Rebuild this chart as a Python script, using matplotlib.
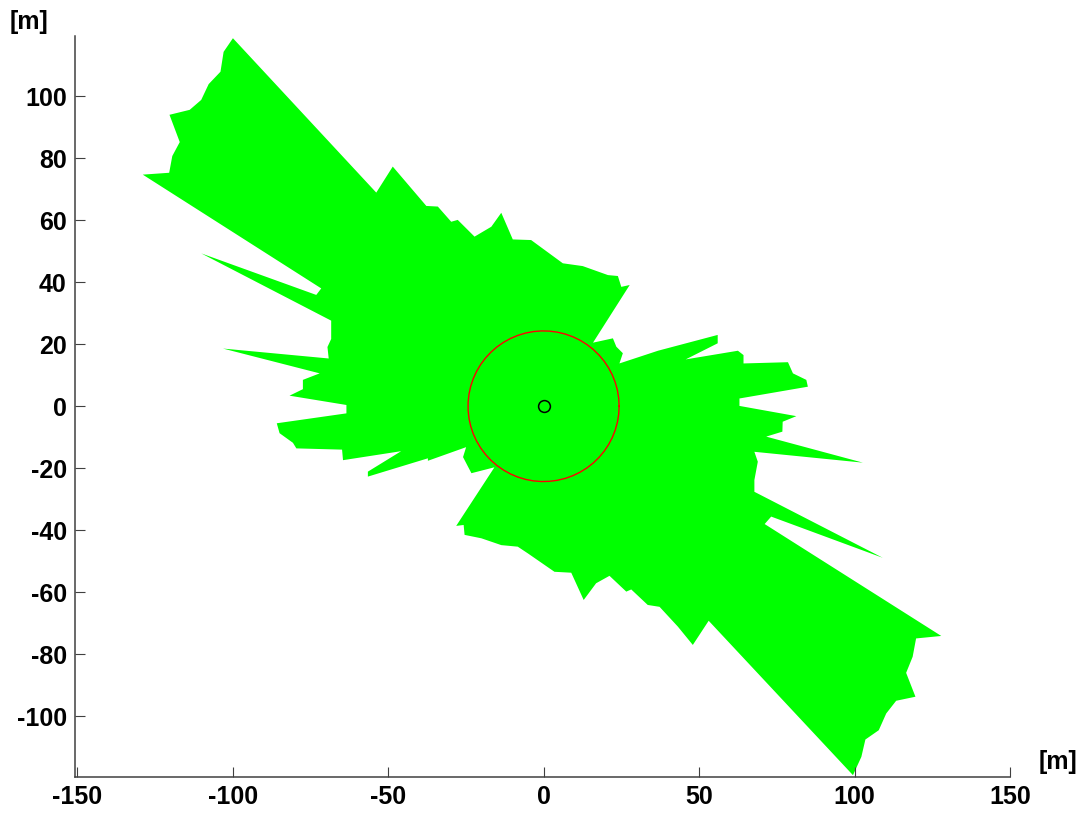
import numpy as np
import matplotlib
matplotlib.use('Agg')
import matplotlib.pyplot as plt

# coverage polygon outline [m], counter-clockwise starting from the +x direction
poly_x = [63.0, 63.0, 85.0, 84.5, 80.2, 78.6, 64.3, 64.3, 62.5, 45.7,
          56.0, 56.0, 36.8, 24.4, 25.5, 23.4, 22.3, 15.9, 27.7, 25.0,
          23.9, 20.7, 12.6, 6.2, -4.0, -9.9, -13.6, -16.8, -22.2, -27.6,
          -29.7, -34.0, -37.7, -48.5, -53.8, -99.9, -102.9, -103.9, -107.7, -110.1,
          -113.8, -120.3, -117.0, -119.4, -120.4, -128.9, -71.5, -73.1, -110.1, -68.3,
          -68.3, -69.5, -69.1, -103.1, -72.0, -77.4, -77.4, -81.7, -63.4, -63.4,
          -85.8, -84.9, -80.6, -79.5, -64.8, -64.5, -45.8, -56.5, -56.5, -37.2,
          -37.2, -24.9, -25.9, -24.3, -23.2, -15.8, -28.1, -25.7, -25.4, -20.0,
          -13.6, -8.3, -5.0, 3.5, 8.9, 12.9, 16.9, 21.2, 26.6, 28.2,
          33.5, 37.3, 43.2, 48.0, 53.1, 99.5, 102.2, 103.5, 107.8, 110.2,
          113.4, 119.6, 116.6, 118.7, 119.8, 127.9, 71.1, 73.2, 109.1, 67.8,
          67.8, 68.9, 67.8, 102.7, 71.6, 76.8, 76.9, 81.3]
poly_y = [0.1, 2.5, 6.3, 8.5, 10.6, 14.2, 13.8, 16.5, 17.9, 15.1,
          20.3, 23.0, 17.9, 13.8, 17.1, 19.2, 21.9, 20.5, 39.1, 38.5,
          42.0, 42.3, 45.2, 46.1, 53.6, 53.8, 62.4, 57.9, 54.7, 60.1,
          59.5, 64.4, 64.6, 77.3, 68.9, 118.7, 114.3, 107.9, 103.9, 98.8,
          95.6, 94.0, 85.2, 80.7, 75.3, 74.7, 38.0, 35.9, 49.3, 27.6,
          21.7, 19.1, 15.4, 18.6, 10.6, 8.5, 5.5, 3.4, 0.4, -2.3,
          -5.5, -8.7, -11.8, -13.6, -14.0, -17.4, -14.5, -21.1, -22.7, -16.8,
          -17.6, -13.2, -16.4, -19.5, -21.6, -19.7, -38.6, -38.3, -41.5, -42.6,
          -44.8, -45.3, -47.5, -53.4, -53.7, -62.5, -57.1, -54.7, -59.8, -59.1,
          -64.1, -64.7, -71.1, -77.0, -69.2, -119.0, -113.1, -107.5, -104.5, -99.1,
          -95.0, -93.7, -86.0, -80.8, -74.9, -74.1, -38.0, -35.6, -48.9, -27.6,
          -23.8, -17.9, -14.7, -18.2, -9.8, -8.2, -5.0, -3.2]

circle_r = 24.3
sensor_x, sensor_y = 0.0, 0.0

x_ticks = [-150, -100, -50, 0, 50, 100, 150]
y_ticks = [-100, -80, -60, -40, -20, 0, 20, 40, 60, 80, 100]

plt.rcParams['font.family'] = ['Liberation Sans', 'DejaVu Sans']
plt.rcParams['axes.unicode_minus'] = False

fig = plt.figure(figsize=(10.88, 8.14), dpi=100)
ax = fig.add_axes([0.0689, 0.0458, 0.8594, 0.9103])

ax.fill(poly_x, poly_y, color='#00ff00', lw=0)

t = np.linspace(0, 2 * np.pi, 60)
ax.plot(sensor_x + circle_r * np.cos(t), sensor_y + circle_r * np.sin(t), color='#ff0000', lw=1)
ax.plot(sensor_x, sensor_y, 'o', mfc='none', mec='k', ms=8.5, mew=1.1)

ax.set_xlim(-150.7, 149.8)
ax.set_ylim(-119.5, 119.5)
ax.set_xticks(x_ticks)
ax.set_yticks(y_ticks)

for s in ['top', 'right']:
    ax.spines[s].set_visible(False)
for s in ['left', 'bottom']:
    ax.spines[s].set_color('#404040')
    ax.spines[s].set_linewidth(1.1)

ax.tick_params(direction='in', length=7, width=0.8, color='#404040',
               labelsize=18, pad=6)
for lab in ax.get_xticklabels() + ax.get_yticklabels():
    lab.set_fontweight('bold')

fig.text(0.009, 0.973, '[m]', fontsize=18, fontweight='bold', ha='left', va='center')
fig.text(0.955, 0.064, '[m]', fontsize=18, fontweight='bold', ha='left', va='center')

plt.savefig('out.png', dpi=100)
